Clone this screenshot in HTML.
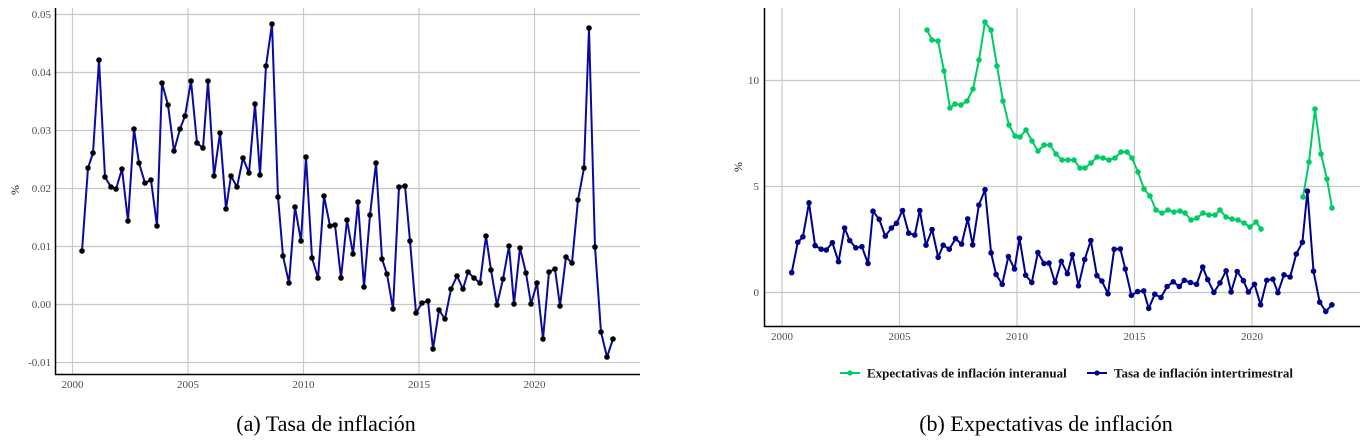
<!DOCTYPE html>
<html><head><meta charset="utf-8"><style>
body{margin:0;background:#fff;width:1368px;height:441px;overflow:hidden}
svg{display:block}
text{font-family:"Liberation Serif",serif}
</style></head><body>
<svg id="s" width="1368" height="441" xmlns="http://www.w3.org/2000/svg">
<g stroke="#c8c8c8" stroke-width="1.2" fill="none">
<line x1="56" x2="640" y1="14.5" y2="14.5"/><line x1="56" x2="640" y1="72.5" y2="72.5"/><line x1="56" x2="640" y1="130.5" y2="130.5"/><line x1="56" x2="640" y1="188.5" y2="188.5"/><line x1="56" x2="640" y1="246.5" y2="246.5"/><line x1="56" x2="640" y1="304.5" y2="304.5"/><line x1="56" x2="640" y1="362.5" y2="362.5"/>
<line x1="72.5" x2="72.5" y1="8" y2="374"/><line x1="188" x2="188" y1="8" y2="374"/><line x1="303.5" x2="303.5" y1="8" y2="374"/><line x1="419" x2="419" y1="8" y2="374"/><line x1="534.5" x2="534.5" y1="8" y2="374"/>
<line x1="765" x2="1360" y1="292.5" y2="292.5"/><line x1="765" x2="1360" y1="186.5" y2="186.5"/><line x1="765" x2="1360" y1="80.5" y2="80.5"/>
<line x1="782" x2="782" y1="8" y2="326"/><line x1="899.5" x2="899.5" y1="8" y2="326"/><line x1="1017" x2="1017" y1="8" y2="326"/><line x1="1134.5" x2="1134.5" y1="8" y2="326"/><line x1="1252" x2="1252" y1="8" y2="326"/>
</g>
<g stroke="#000" stroke-width="1.5"><line x1="55.5" x2="55.5" y1="8" y2="375"/><line x1="55" x2="640" y1="374.5" y2="374.5"/>
<line x1="764.5" x2="764.5" y1="8" y2="327"/><line x1="764" x2="1360" y1="326.5" y2="326.5"/></g>
<g fill="#4d4d4d" font-size="11" text-anchor="end">
<text x="51" y="18">0.05</text><text x="51" y="76">0.04</text><text x="51" y="134">0.03</text><text x="51" y="192">0.02</text><text x="51" y="250">0.01</text><text x="51" y="308">0.00</text><text x="51" y="366">-0.01</text>
<text x="759" y="296">0</text><text x="759" y="190">5</text><text x="759" y="84">10</text>
</g>
<g fill="#4d4d4d" font-size="11" text-anchor="middle">
<text x="72.5" y="388">2000</text><text x="188" y="388">2005</text><text x="303.5" y="388">2010</text><text x="419" y="388">2015</text><text x="534.5" y="388">2020</text>
<text x="782" y="340">2000</text><text x="899.5" y="340">2005</text><text x="1017" y="340">2010</text><text x="1134.5" y="340">2015</text><text x="1252" y="340">2020</text>
</g>
<text font-size="12" transform="translate(19,190) rotate(-90)" text-anchor="middle" fill="#222">%</text>
<text font-size="12" transform="translate(742,167) rotate(-90)" text-anchor="middle" fill="#222">%</text>
<g id="d"></g>
<g font-size="13" font-weight="bold" fill="#111">
<line x1="840" x2="860" y1="373" y2="373" stroke="#00cc66" stroke-width="2"/><circle cx="850" cy="373" r="2.6" fill="#00cc66"/>
<text x="867" y="377.5">Expectativas de inflación interanual</text>
<line x1="1087" x2="1107" y1="373" y2="373" stroke="#00008b" stroke-width="2"/><circle cx="1097" cy="373" r="2.6" fill="#00008b"/>
<text x="1114" y="377.5">Tasa de inflación intertrimestral</text>
</g>
<text x="326" y="431" font-size="22" text-anchor="middle" fill="#000">(a) Tasa de inflación</text>
<text x="1046" y="431" font-size="22" text-anchor="middle" fill="#000">(b) Expectativas de inflación</text>
</svg>
<script>
var L=[[82,251],[88,168],[93,153],[99,60],[105,177],[111,187],[116,189],[122,169],[128,221],[134,129],[139,163],[145,183],[151,180],[157,226],[162,83],[168,105],[174,151],[180,129],[185,116],[191,81],[197,143],[203,148],[208,81],[214,176],[220,133],[226,209],[231,176],[237,187],[243,158],[249,173],[255,104],[260,175],[266,66],[272,24],[278,197],[283,256],[289,283],[295,207],[301,241],[306,157],[312,258],[318,278],[324,196],[330,226],[335,225],[341,278],[347,220],[353,254],[358,202],[364,287],[370,215],[376,163],[382,259],[387,274],[393,309],[399,187],[405,186],[410,241],[416,313],[422,303],[428,301],[433,349],[439,310],[445,319],[451,289],[457,276],[463,289],[468,272],[474,278],[480,283],[486,236],[491,270],[497,305],[503,279],[509,246],[514,304],[520,248],[526,273],[531,304],[537,283],[543,339],[549,272],[555,269],[560,306],[566,257],[572,263],[578,200],[584,168],[589,28],[595,247],[601,332],[607,357],[613,339]];
var G1=[[927,30],[932,40],[938,41],[944,71],[950,108],[955,104],[961,105],[967,101],[973,89],[979,60],[985,22],[991,30],[997,66],[1003,101],[1009,125],[1015,136],[1020,137],[1026,130],[1032,141],[1038,151],[1044,145],[1050,145],[1056,154],[1062,160],[1068,160],[1074,160],[1080,168],[1085,168],[1091,163],[1097,157],[1103,158],[1109,160],[1115,158],[1121,152],[1127,152],[1132,158],[1138,172],[1144,189],[1150,196],[1156,210],[1162,213],[1168,210],[1174,212],[1180,211],[1185,213],[1191,220],[1197,218],[1203,213],[1209,215],[1215,215],[1220,210],[1226,217],[1232,219],[1238,220],[1244,223],[1250,227],[1256,222],[1261,229]];
var G2=[[1303,197],[1309,162],[1315,109],[1321,154],[1327,179],[1332,208]];
var B=L.map(function(p){var t=(p[0]-72.5)/23.1;return [782+t*23.5,292-(304-p[1])*0.3655];});
var h='';
function s(a,c,dot){h+='<polyline fill="none" stroke="'+c+'" stroke-width="2" stroke-linejoin="round" points="'+a.map(function(p){return p[0].toFixed(1)+','+p[1].toFixed(1)}).join(' ')+'"/>';
a.forEach(function(p){h+='<circle cx="'+p[0].toFixed(1)+'" cy="'+p[1].toFixed(1)+'" r="2.8" fill="'+dot+'"/>';});}
s(L,'#0a0aa0','#000');s(G1,'#00cc66','#00cc66');s(G2,'#00cc66','#00cc66');s(B,'#00008b','#00008b');
document.getElementById('d').innerHTML=h;
</script>
</body></html>
